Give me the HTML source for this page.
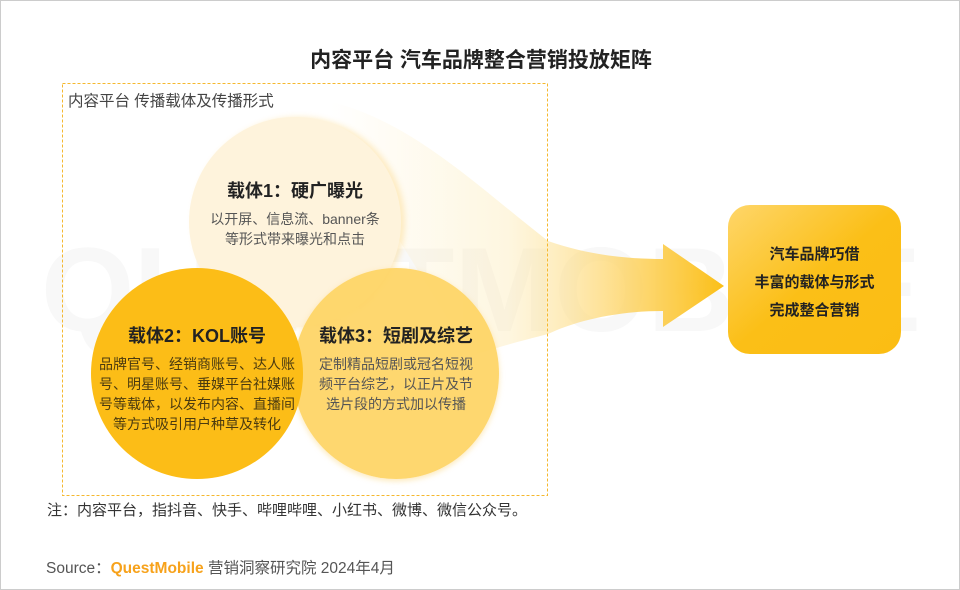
<!DOCTYPE html>
<html><head><meta charset="utf-8"><style>
body{margin:0;background:#fff;}
#c{position:relative;width:958px;height:588px;border:1px solid #ccc;overflow:hidden;font-family:"Liberation Sans","Noto Sans CJK SC",sans-serif;color:#333;}
.t{position:absolute;white-space:nowrap;}
.circ{position:absolute;border-radius:50%;text-align:center;}
.circ h3{margin:0;font-size:18px;font-weight:bold;color:#222;}
.circ p{margin:6px 0 0;font-size:14px;line-height:20px;color:#555;}
</style></head><body><div id="c">
<div class="t" style="left:0;width:960px;text-align:center;top:43px;font-size:21px;font-weight:bold;color:#222;">内容平台 汽车品牌整合营销投放矩阵</div>
<svg style="position:absolute;left:0;top:0" width="960" height="590">
<defs>
<linearGradient id="ag" x1="330" y1="0" x2="723" y2="0" gradientUnits="userSpaceOnUse">
<stop offset="0" stop-color="#fde6a6" stop-opacity="0"/><stop offset="0.45" stop-color="#fde6a6" stop-opacity="0.35"/><stop offset="0.75" stop-color="#fdd56a" stop-opacity="0.85"/><stop offset="1" stop-color="#fbbf17"/></linearGradient>
<linearGradient id="bg" x1="0" y1="0" x2="1" y2="1"><stop offset="0" stop-color="#fed66a"/><stop offset="0.5" stop-color="#fbbf17"/><stop offset="1" stop-color="#fbbd14"/></linearGradient>
</defs>
<text x="40" y="330" font-size="120" font-weight="bold" fill="#f8f8f8" font-family="Liberation Sans">QUESTMOBILE</text>
<path d="M310,97 C400,110 470,180 547,240 C590,255 630,258 662,258 L662,243 L723,285 L662,326 L662,310 C610,310 570,322 547,333 C520,340 500,345 470,355 Z" fill="url(#ag)"/>
<rect x="61.5" y="82.5" width="485" height="412" fill="none" stroke="#f5b82e" stroke-dasharray="3,2"/>
<rect x="727" y="204" width="173" height="149" rx="22" fill="url(#bg)"/>
</svg>
<div class="t" style="left:67px;top:88px;font-size:15.5px;color:#444;">内容平台 传播载体及传播形式</div>
<div class="circ" style="left:188px;top:116px;width:212px;height:210px;background:#fef3dc;box-shadow:4px 0 6px rgba(251,200,80,0.3);">
<h3 style="margin-top:60px">载体1：硬广曝光</h3><p>以开屏、信息流、banner条<br>等形式带来曝光和点击</p></div>
<div class="circ" style="left:292px;top:267px;width:206px;height:211px;background:rgba(254,212,100,0.93);box-shadow:0 2px 6px rgba(251,200,80,0.4);">
<h3 style="margin-top:54px">载体3：短剧及综艺</h3><p>定制精品短剧或冠名短视<br>频平台综艺，以正片及节<br>选片段的方式加以传播</p></div>
<div class="circ" style="left:90px;top:267px;width:212px;height:211px;background:#fcbd17;">
<h3 style="margin-top:54px">载体2：KOL账号</h3><p style="color:#4a3a10">品牌官号、经销商账号、达人账<br>号、明星账号、垂媒平台社媒账<br>号等载体，以发布内容、直播间<br>等方式吸引用户种草及转化</p></div>
<div class="t" style="left:727px;width:173px;top:240px;text-align:center;font-size:15px;font-weight:bold;line-height:28px;color:#222;">汽车品牌巧借<br>丰富的载体与形式<br>完成整合营销</div>
<div class="t" style="left:46px;top:498px;font-size:15px;color:#333;">注：内容平台，指抖音、快手、哔哩哔哩、小红书、微博、微信公众号。</div>
<div class="t" style="left:45px;top:555px;font-size:15.5px;color:#555;">Source：<b style="color:#f7a21b">QuestMobile</b> 营销洞察研究院 2024年4月</div>
</div></body></html>
